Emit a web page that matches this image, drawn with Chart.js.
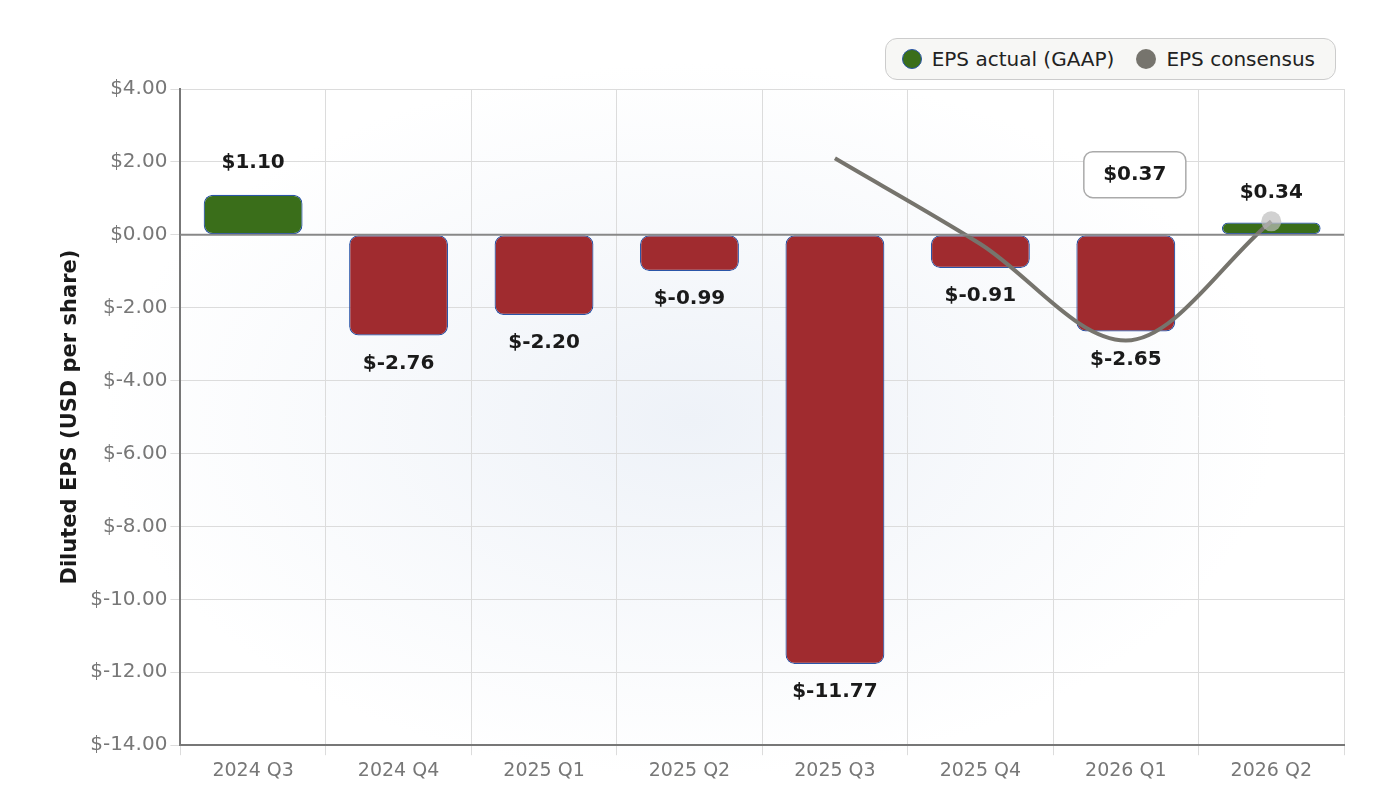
<!DOCTYPE html>
<html><head><meta charset="utf-8">
<script src="https://cdn.jsdelivr.net/npm/chart.js@4"></script>
<style>
body{margin:0;background:#fff;font-family:"DejaVu Sans";}
#wrap{position:relative;width:1380px;height:808px;background:radial-gradient(ellipse at 50% 52%,#eef2f8 0%,#ffffff 60%);}
#legend{position:absolute;top:38px;right:44px;height:40px;border:1px solid #ccc;border-radius:12px;background:#f7f7f5;display:flex;align-items:center;padding:0 20px 0 16px;font:20px "DejaVu Sans";color:#222;gap:22px}
.dot{display:inline-block;width:20px;height:20px;border-radius:50%;margin-right:10px;vertical-align:-3px}
</style></head><body>
<div id="wrap"><canvas id="c" width="1380" height="808"></canvas>
<div id="legend"><span><span class="dot" style="background:#3a6e1a;border:1.5px solid #2a55a8;width:18px;height:18px"></span>EPS actual (GAAP)</span><span><span class="dot" style="background:#76746d"></span>EPS consensus</span></div></div>
<script>
const categories=["2024 Q3","2024 Q4","2025 Q1","2025 Q2","2025 Q3","2025 Q4","2026 Q1","2026 Q2"];
const epsActual=[1.10,-2.76,-2.20,-0.99,-11.77,-0.91,-2.65,0.34];
const epsConsensus=[null,null,null,null,2.1,-0.25,-2.9,0.37];
const yTicks=[4,2,0,-2,-4,-6,-8,-10,-12,-14];
const labelPlugin={id:'lbl',afterDatasetsDraw(ch){
 const ctx=ch.ctx, m=ch.getDatasetMeta(0);
 ctx.save();ctx.font='bold 20px "DejaVu Sans"';ctx.fillStyle='#1a1a1a';ctx.textAlign='center';
 m.data.forEach((b,i)=>{const v=epsActual[i];const t='$'+v.toFixed(2);
  if(v>=0){ctx.textBaseline='bottom';ctx.fillText(t,b.x,b.y-(i==7?20:22));}
  else{ctx.textBaseline='top';ctx.fillText(t,b.x,b.y+18);}});
 const x=ch.scales.x.getPixelForValue(6), y=ch.scales.y.getPixelForValue(1.65);
 const w=102,h=46;
 ctx.fillStyle='#fff';ctx.strokeStyle='#aaa';ctx.lineWidth=1.5;
 ctx.beginPath();ctx.roundRect(x-w/2+9,y-h/2,w,h,9);ctx.fill();ctx.stroke();
 ctx.fillStyle='#1a1a1a';ctx.textBaseline='middle';ctx.fillText('$0.37',x+9,y);
 ctx.restore();}};
new Chart(document.getElementById('c'),{
 data:{labels:categories,datasets:[
  {type:'bar',data:epsActual,backgroundColor:epsActual.map(v=>v>=0?'#3a6e1a':'#a02b2f'),borderColor:'#2a55a8',borderWidth:1.2,borderRadius:9,borderSkipped:false,categoryPercentage:0.68,barPercentage:1,order:2},
  {type:'line',data:epsConsensus,borderColor:'#76746d',borderWidth:4,tension:0.45,cubicInterpolationMode:'monotone',pointRadius:[0,0,0,0,0,0,0,10],pointBackgroundColor:'rgba(190,190,190,0.7)',pointBorderWidth:0,order:1}
 ]},
 options:{responsive:false,animation:false,
  layout:{padding:{top:89,right:36,left:54,bottom:22}},
  plugins:{legend:{display:false},tooltip:{enabled:false}},
  scales:{
   x:{grid:{color:'#dcdcdc',offset:true,drawTicks:true,tickLength:10},border:{color:'#777',width:2},ticks:{color:'#777',font:{family:'DejaVu Sans',size:19},padding:4}},
   y:{min:-14,max:4,afterBuildTicks:a=>{a.ticks=yTicks.map(v=>({value:v}));},grid:{color:'#dcdcdc',tickLength:10},border:{color:'#777',width:2},
      ticks:{color:'#777',font:{family:'DejaVu Sans',size:20},callback:v=>'$'+v.toFixed(2)},
      title:{display:true,text:'Diluted EPS (USD per share)',color:'#1a1a1a',font:{family:'DejaVu Sans',size:21,weight:'bold'}}}
  }},
 plugins:[labelPlugin,{id:'zero',afterDraw(ch){const y=ch.scales.y.getPixelForValue(0),c=ch.ctx;c.save();c.strokeStyle='#888';c.lineWidth=2;c.beginPath();c.moveTo(ch.chartArea.left,y);c.lineTo(ch.chartArea.right,y);c.stroke();c.restore();}}]
});
</script></body></html>
